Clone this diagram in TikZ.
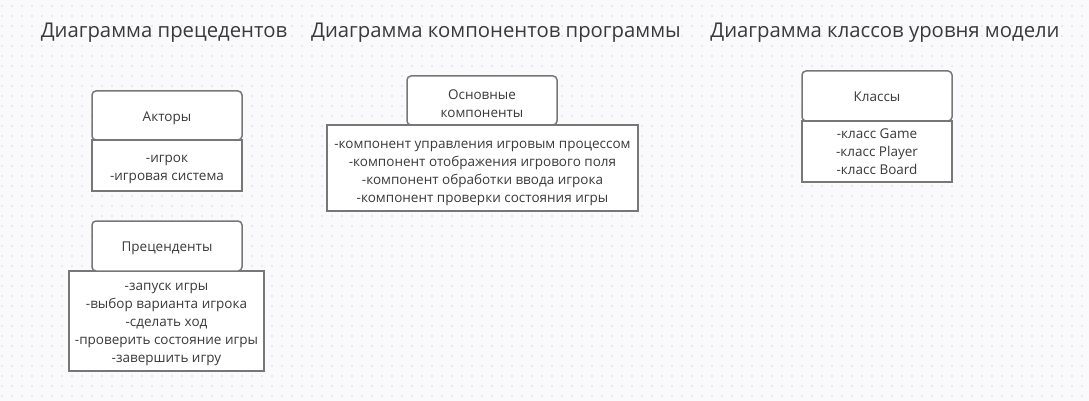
\documentclass[tikz,border=0pt]{standalone}
\usepackage{fontspec}
\setmainfont{Open Sans}
\begin{document}
\begin{tikzpicture}[x=1pt,y=-1pt,
  title/.style={anchor=base,text=txt,font=\fontsize{20.3}{24}\selectfont,inner sep=0},
  hdr/.style={draw=brd,line width=1.5pt,rounded corners=4pt,fill=white,inner sep=0},
  bdy/.style={draw=brd,line width=1.5pt,fill=white,inner sep=0},
  txtn/.style={anchor=base,inner sep=0,text=txt,align=center,font=\fontsize{13.5}{18}\selectfont}]
\definecolor{bg}{HTML}{FAFAFC}
\definecolor{dotc}{HTML}{E8E8EE}
\definecolor{brd}{HTML}{777777}
\definecolor{txt}{HTML}{3A3A3A}
\fill[bg] (0,0) rectangle (1089,401);
\useasboundingbox (0,0) rectangle (1089,401);
\foreach \r in {0,...,39} {
  \draw[dotc,line width=2pt,dash pattern=on 2pt off 8pt] (1,6+10*\r) -- (1089,6+10*\r);
}
\node[title] (t1) at (164,37.5) {Диаграмма прецедентов};
\node[title] (t2) at (496,37.5) {Диаграмма компонентов программы};
\node[title] (t3) at (885,37.5) {Диаграмма классов уровня модели};

% text nodes use anchor=base = baseline of the LAST line
\node[bdy,minimum width=150pt,minimum height=51pt] (ab) at (167,165.5) {};
\node[hdr,minimum width=150pt,minimum height=49pt] (ah) at (167,115.5) {};
\node[txtn] (ah-t) at (ah.center |- 0,121.7) {Акторы};
\node[txtn] (ab-t) at (ab.center |- 0,180) {-игрок\\-игровая система};

\node[bdy,minimum width=195pt,minimum height=100pt] (pb) at (166.5,321) {};
\node[hdr,minimum width=150pt,minimum height=50pt] (ph) at (167,246) {};
\node[txtn] (ph-t) at (ph.center |- 0,251.7) {Преценденты};
\node[txtn] (pb-t) at (pb.center |- 0,362) {-запуск игры\\-выбор варианта игрока\\-сделать ход\\-проверить состояние игры\\-завершить игру};

\node[bdy,minimum width=311pt,minimum height=86pt] (cb) at (482.5,168) {};
\node[hdr,minimum width=150pt,minimum height=49pt] (ch) at (482,100.5) {};
\node[txtn] (ch-t) at (ch.center |- 0,117.3) {Основные\\компоненты};
\node[txtn] (cb-t) at (cb.center |- 0,202) {-компонент управления игровым процессом\\-компонент отображения игрового поля\\-компонент обработки ввода игрока\\-компонент проверки состояния игры};

\node[bdy,minimum width=150pt,minimum height=61pt] (kb) at (877,151.5) {};
\node[hdr,minimum width=150pt,minimum height=50pt] (kh) at (877,96) {};
\node[txtn] (kh-t) at (kh.center |- 0,101.7) {Классы};
\node[txtn] (kb-t) at (kb.center |- 0,174.5) {-класс Game\\-класс Player\\-класс Board};
\end{tikzpicture}
\end{document}
